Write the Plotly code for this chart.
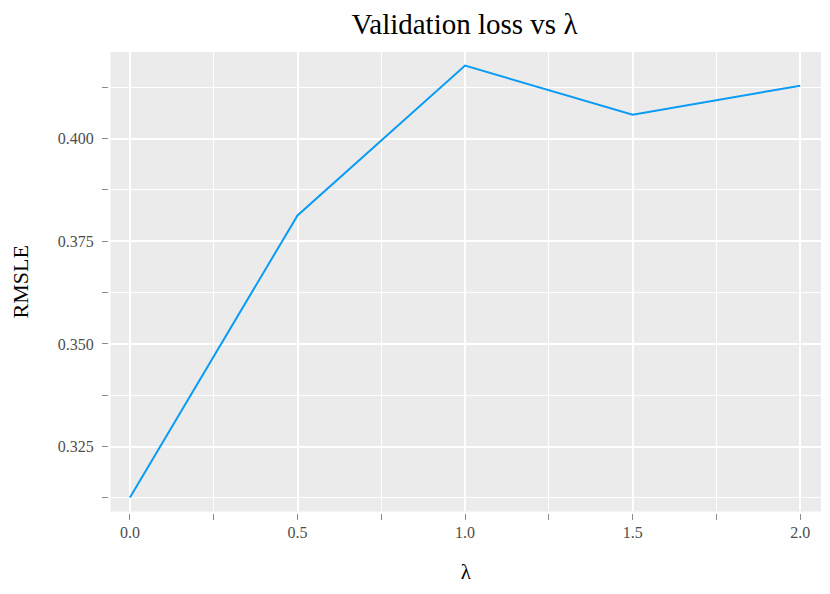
import plotly.graph_objects as go

lambdas = [0.0, 0.5, 1.0, 1.5, 2.0]
rmsle = [0.3126, 0.3813, 0.4178, 0.4058, 0.4129]
x_ticks = [0.0, 0.5, 1.0, 1.5, 2.0]
x_tick_labels = ["0.0", "0.5", "1.0", "1.5", "2.0"]
y_ticks = [0.325, 0.350, 0.375, 0.400]
y_tick_labels = ["0.325", "0.350", "0.375", "0.400"]

FONT = "Liberation Serif"
TICKCOL = "#8a8a8a"

fig = go.Figure(go.Scatter(x=lambdas, y=rmsle, mode="lines",
                           line=dict(color="#0A9BF5", width=2),
                           showlegend=False))

W, H = 814, 578
fig.update_layout(
    width=W, height=H,
    margin=dict(l=100, r=1, t=44, b=73, autoexpand=False),
    paper_bgcolor="white",
    plot_bgcolor="#EBEBEB",
    font=dict(family=FONT, color="#4d4d4d", size=16),
    title=dict(text="Validation loss vs λ", x=0.5, xref="paper", xanchor="center",
               y=1 - 16 / H, yref="container", yanchor="middle",
               font=dict(family=FONT, size=29, color="black")),
    xaxis=dict(
        domain=[0.0035, 1], anchor="free", position=0, automargin=False,
        range=[-0.058, 2.062],
        tickvals=x_ticks, ticktext=x_tick_labels,
        ticks="outside", ticklen=6, tickwidth=1, tickcolor=TICKCOL,
        ticklabelstandoff=-1,
        showgrid=True, gridcolor="white", gridwidth=2,
        zeroline=False, showline=False,
        minor=dict(dtick=0.25, tick0=0, ticks="outside", ticklen=6, tickwidth=1,
                   tickcolor=TICKCOL, showgrid=True, gridcolor="white", gridwidth=1),
        title=dict(text="λ", font=dict(family=FONT, size=21, color="black"), standoff=24),
    ),
    yaxis=dict(
        domain=[0.0033, 1], anchor="free", position=0, automargin=False,
        range=[0.3092, 0.4211],
        tickvals=y_ticks, ticktext=y_tick_labels,
        ticks="outside", ticklen=6, tickwidth=1, tickcolor=TICKCOL,
        ticklabelstandoff=5,
        showgrid=True, gridcolor="white", gridwidth=2,
        zeroline=False, showline=False,
        minor=dict(dtick=0.0125, tick0=0.3, ticks="outside", ticklen=6, tickwidth=1,
                   tickcolor=TICKCOL, showgrid=True, gridcolor="white", gridwidth=1),
        title=dict(text="RMSLE", font=dict(family=FONT, size=22, color="black"), standoff=26),
    ),
)

fig.write_html("out.html")
